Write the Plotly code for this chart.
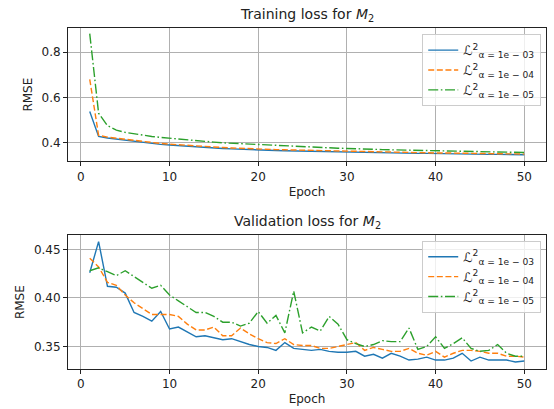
import plotly.graph_objects as go
from plotly.subplots import make_subplots

epochs = list(range(1, 51))

train_1e3 = [0.537, 0.427, 0.420, 0.415, 0.410, 0.405, 0.400, 0.396, 0.392, 0.389,
             0.386, 0.383, 0.380, 0.378, 0.376, 0.374, 0.372, 0.370, 0.369, 0.367,
             0.366, 0.365, 0.364, 0.363, 0.362, 0.361, 0.360, 0.359, 0.358, 0.357,
             0.357, 0.356, 0.355, 0.355, 0.354, 0.353, 0.353, 0.352, 0.352, 0.351,
             0.351, 0.350, 0.350, 0.349, 0.349, 0.348, 0.348, 0.347, 0.347, 0.346]
train_1e4 = [0.680, 0.432, 0.424, 0.419, 0.414, 0.409, 0.404, 0.400, 0.396, 0.393,
             0.390, 0.387, 0.384, 0.382, 0.380, 0.378, 0.376, 0.374, 0.373, 0.371,
             0.370, 0.369, 0.368, 0.367, 0.366, 0.365, 0.364, 0.363, 0.362, 0.361,
             0.360, 0.359, 0.358, 0.358, 0.357, 0.356, 0.356, 0.355, 0.355, 0.354,
             0.354, 0.353, 0.353, 0.352, 0.352, 0.351, 0.351, 0.350, 0.350, 0.349]
train_1e5 = [0.882, 0.530, 0.475, 0.455, 0.445, 0.438, 0.432, 0.427, 0.423, 0.419,
             0.415, 0.411, 0.408, 0.405, 0.402, 0.399, 0.397, 0.394, 0.392, 0.390,
             0.388, 0.386, 0.384, 0.382, 0.381, 0.379, 0.378, 0.376, 0.375, 0.374,
             0.372, 0.371, 0.370, 0.369, 0.368, 0.367, 0.366, 0.365, 0.364, 0.363,
             0.362, 0.362, 0.361, 0.360, 0.359, 0.359, 0.358, 0.357, 0.357, 0.356]

val_1e3 = [0.426, 0.458, 0.412, 0.411, 0.405, 0.385, 0.381, 0.376, 0.386, 0.368,
           0.370, 0.365, 0.360, 0.361, 0.359, 0.357, 0.358, 0.355, 0.352, 0.350,
           0.349, 0.346, 0.354, 0.348, 0.347, 0.346, 0.347, 0.345, 0.344, 0.344,
           0.345, 0.340, 0.342, 0.338, 0.343, 0.340, 0.336, 0.337, 0.339, 0.336,
           0.336, 0.338, 0.343, 0.335, 0.339, 0.336, 0.336, 0.336, 0.334, 0.335]
val_1e4 = [0.441, 0.432, 0.416, 0.413, 0.403, 0.395, 0.389, 0.383, 0.383, 0.383,
           0.381, 0.373, 0.367, 0.367, 0.370, 0.361, 0.361, 0.369, 0.363, 0.358,
           0.354, 0.353, 0.358, 0.352, 0.351, 0.351, 0.348, 0.348, 0.350, 0.352,
           0.354, 0.346, 0.349, 0.347, 0.345, 0.345, 0.348, 0.343, 0.341, 0.345,
           0.339, 0.343, 0.346, 0.346, 0.345, 0.343, 0.343, 0.340, 0.340, 0.339]
val_1e5 = [0.428, 0.431, 0.427, 0.423, 0.428, 0.422, 0.416, 0.410, 0.413, 0.403,
           0.397, 0.391, 0.385, 0.385, 0.381, 0.375, 0.375, 0.371, 0.374, 0.386,
           0.374, 0.382, 0.364, 0.407, 0.364, 0.370, 0.366, 0.381, 0.373, 0.357,
           0.353, 0.350, 0.352, 0.356, 0.355, 0.355, 0.369, 0.347, 0.350, 0.360,
           0.348, 0.353, 0.359, 0.348, 0.345, 0.346, 0.352, 0.343, 0.340, 0.340]

labels = ["ℒ<sup>2</sup><sub>α = 1e − 03</sub>",
          "ℒ<sup>2</sup><sub>α = 1e − 04</sub>",
          "ℒ<sup>2</sup><sub>α = 1e − 05</sub>"]
colors = ["#1f77b4", "#ff7f0e", "#2ca02c"]
dashes = ["solid", "6px,2.6px", "10px,2.6px,1.6px,2.6px"]

train_tick_vals = [0.4, 0.6, 0.8]
train_tick_text = ["0.4", "0.6", "0.8"]
val_tick_vals = [0.35, 0.40, 0.45]
val_tick_text = ["0.35", "0.40", "0.45"]
x_ticks = [0, 10, 20, 30, 40, 50]

fig = make_subplots(rows=2, cols=1, vertical_spacing=0.0)

for i, ys in enumerate([train_1e3, train_1e4, train_1e5]):
    fig.add_trace(go.Scatter(x=epochs, y=ys, mode="lines", name=labels[i],
                             line=dict(color=colors[i], width=1.4, dash=dashes[i]),
                             legend="legend"), row=1, col=1)
for i, ys in enumerate([val_1e3, val_1e4, val_1e5]):
    fig.add_trace(go.Scatter(x=epochs, y=ys, mode="lines", name=labels[i],
                             line=dict(color=colors[i], width=1.4, dash=dashes[i]),
                             legend="legend2"), row=2, col=1)

axis_common = dict(showline=True, mirror=True, linecolor="#222", linewidth=1,
                   showgrid=True, gridcolor="#b0b0b0", gridwidth=0.8,
                   ticks="outside", ticklen=4, tickcolor="#222",
                   tickfont=dict(size=12, color="#222"), zeroline=False, automargin=False)

fig.update_xaxes(**axis_common, range=[-1.45, 52.45], tickvals=x_ticks,
                 title=dict(text="Epoch", font=dict(size=12, color="#222"), standoff=4))
fig.update_yaxes(**axis_common,
                 title=dict(text="RMSE", font=dict(size=12, color="#222"), standoff=6))

legend_common = dict(xanchor="right", yanchor="top",
                     bgcolor="rgba(255,255,255,0.8)", bordercolor="#cccccc", borderwidth=1,
                     font=dict(size=13, color="#222"), tracegroupgap=0, itemwidth=30)

fig.update_layout(
    width=554, height=409,
    margin=dict(l=68, r=8, t=28, b=40),
    paper_bgcolor="white", plot_bgcolor="white",
    font=dict(family="DejaVu Sans", color="#222"),
    xaxis=dict(domain=[0, 1]),
    yaxis=dict(domain=[0.609, 1.0], range=[0.317, 0.907], tickvals=train_tick_vals,
               ticktext=train_tick_text),
    xaxis2=dict(domain=[0, 1]),
    yaxis2=dict(domain=[0.0, 0.392], range=[0.3268, 0.4645], tickvals=val_tick_vals,
                ticktext=val_tick_text),
    legend=dict(x=0.99, y=0.982, **legend_common),
    legend2=dict(x=0.99, y=0.376, **legend_common),
    annotations=[
        dict(text="Training loss for <i>M</i><sub>2</sub>", x=0.5, y=1.0, xref="paper",
             yref="paper", xanchor="center", yanchor="bottom", yshift=2, showarrow=False,
             font=dict(size=14, color="#222")),
        dict(text="Validation loss for <i>M</i><sub>2</sub>", x=0.5, y=0.392, xref="paper",
             yref="paper", xanchor="center", yanchor="bottom", yshift=2, showarrow=False,
             font=dict(size=14, color="#222")),
    ],
)

fig.write_html("out.html", config={"displayModeBar": False},
               post_script="document.body.style.margin='0';document.body.style.padding='0';")
